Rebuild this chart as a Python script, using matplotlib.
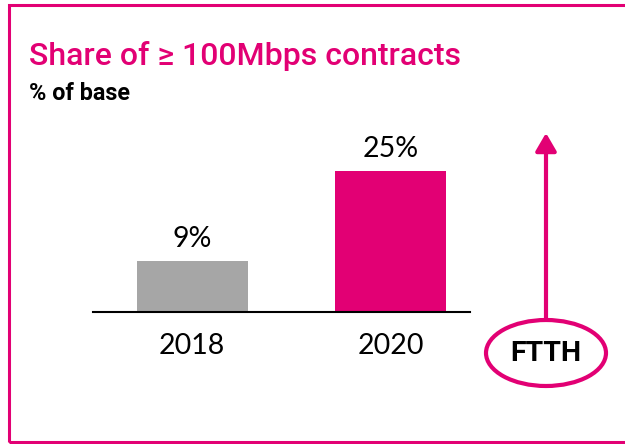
import matplotlib
matplotlib.use("Agg")

import matplotlib.pyplot as plt
from matplotlib.patches import Rectangle, Ellipse

years = ["2018", "2020"]
shares = [9, 25]
bar_colors = ["#A6A6A6", "#E20074"]
title = "Share of \u2265 100Mbps contracts"
subtitle = "% of base"
tag = "FTTH"

magenta = "#E20074"
head_font = ["Roboto", "Liberation Sans", "DejaVu Sans"]

fig = plt.figure(figsize=(6.25, 4.44), dpi=100)
W, H = 625, 444

# bar axes, placed in pixels
ax = fig.add_axes([93 / W, (H - 311.7) / H, 377 / W, 181.7 / H])
x = range(len(years))
ax.bar(x, shares, width=0.56, color=bar_colors)
ax.set_xlim(-0.5, 1.4)
ax.set_ylim(0, 32.3)
for i, v in enumerate(shares):
    ax.annotate(f"{v}%", (i, v), xytext=(0, 10), textcoords="offset points",
                ha="center", va="baseline", fontsize=20.5, family="Lato")
ax.set_xticks(list(x))
ax.set_xticklabels(years, fontsize=20.5, family="Lato")
ax.tick_params(axis="x", length=0, pad=15)
ax.set_yticks([])
for s in ["top", "left", "right"]:
    ax.spines[s].set_visible(False)
ax.spines["bottom"].set_linewidth(1.5)

# frame round the slide panel (right side runs off the picture)
fig.add_artist(Rectangle((9 / W, (H - 442) / H), 1.2, 437 / H,
                         transform=fig.transFigure, fill=False,
                         edgecolor=magenta, lw=2.2, clip_on=False))

fig.text(29 / W, (H - 65) / H, title, color=magenta, fontsize=23,
         family=head_font, weight="medium", va="baseline")
fig.text(29 / W, (H - 100) / H, subtitle, color="black", fontsize=16.8,
         family=head_font, weight="bold", va="baseline")

# arrow + FTTH bubble
ax.annotate("", xy=(546, H - 133), xytext=(546, H - 319),
            xycoords="figure pixels", textcoords="figure pixels",
            arrowprops=dict(arrowstyle="-|>,head_length=0.6,head_width=0.35",
                            lw=3, color=magenta, mutation_scale=18,
                            shrinkA=0, shrinkB=0))
fig.add_artist(Ellipse((546 / W, (H - 353) / H), 120 / W, 66 / H,
                       transform=fig.transFigure, fill=False,
                       edgecolor=magenta, lw=3))
fig.text(546 / W, (H - 353) / H, tag, fontsize=20.5, weight="bold",
         family=head_font, ha="center", va="center")

fig.savefig("out.png", dpi=100)
